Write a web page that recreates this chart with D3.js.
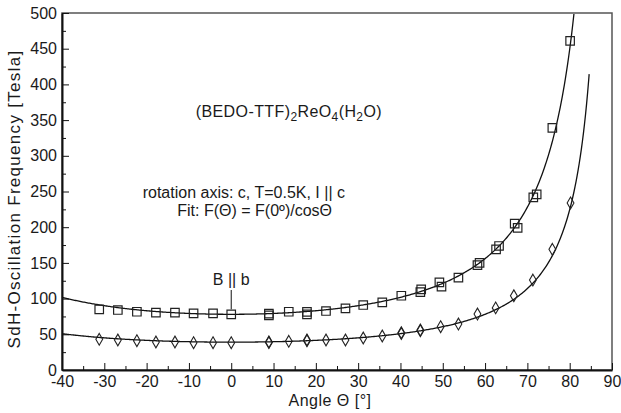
<!DOCTYPE html>
<html lang="en">
<head>
<meta charset="UTF-8">
<title>SdH frequency vs angle</title>
<script src="https://cdn.jsdelivr.net/npm/d3@7"></script>
<style>
    body { margin: 0; background: #fff; }
    svg text { font-family: "Liberation Sans", Arial, sans-serif; fill: #1a1a1a; }
    .axis path, .axis line { stroke: #111; fill: none; }
    .axis text { font-size: 16px; }
</style>
</head>
<body>
<svg width="621" height="413"></svg>
<script>
// squares: upper orbit
var squareAngle = [-31.2, -26.8, -22.3, -17.8, -13.3, -8.9, -4.3, 0, 8.9, 8.9, 13.6, 17.9, 17.9, 22.4,
    27, 31.2, 35.7, 40.2, 44.7, 44.9, 49.2, 49.7, 53.7, 58.2, 58.7, 62.6, 63.3, 67, 67.7, 71.4, 72.2, 75.9, 80.1];
var squareFreq = [85, 84, 81.6, 80.3, 80.3, 79.4, 79.4, 78, 79, 76.5, 81.6, 81.5, 78, 82.6,
    86.3, 91, 94.8, 104, 109, 113, 122.8, 116.7, 129.3, 147, 150, 169, 173.7, 205, 199, 241.8, 246, 339, 461];
// diamonds: lower orbit
var diamondAngle = [-31.2, -26.8, -22.3, -17.8, -13.3, -8.9, -4.3, 0, 8.9, 8.9, 13.6, 17.9, 17.9, 22.4,
    27, 31.2, 35.7, 40.2, 40.2, 44.7, 44.7, 49.5, 53.7, 58.2, 62.5, 66.8, 71.3, 75.9, 80.2];
var diamondFreq = [43, 42, 41, 39.2, 39.2, 38.3, 38.3, 38.3, 39.2, 38.5, 40.2, 42, 41, 42,
    42, 44.8, 47.6, 52.3, 51, 55, 56, 60.7, 64.4, 78.4, 87, 104, 126, 169, 234];
// fit F(0)/cos(theta)
var fitF0 = [78, 39];
var fitEnd = [81.0, 84.6];

var xTicks = [-40, -30, -20, -10, 0, 10, 20, 30, 40, 50, 60, 70, 80, 90];
var xMinor = [-35, -25, -15, -5, 5, 15, 25, 35, 45, 55, 65, 75, 85];
var yTicks = [0, 50, 100, 150, 200, 250, 300, 350, 400, 450, 500];
var yMinor = [25, 75, 125, 175, 225, 275, 325, 375, 425, 475];

var svg = d3.select("svg");
var pLeft = 62, pRight = 612, pTop = 13, pBottom = 370;

var x = d3.scaleLinear().domain([-40, 90]).range([pLeft, pRight]);
var y = d3.scaleLinear().domain([0, 500]).range([pBottom, pTop]);
var fmt = function (d) { return String(d); };

// frame (top/right lighter)
svg.append("rect")
    .attr("x", pLeft).attr("y", pTop)
    .attr("width", pRight - pLeft).attr("height", pBottom - pTop)
    .attr("fill", "none").attr("stroke", "#555").attr("stroke-width", 1.5);

// minor ticks
svg.append("g").attr("class", "axis")
    .attr("transform", "translate(0," + pBottom + ")")
    .call(d3.axisBottom(x).tickValues(xMinor).tickSize(-4).tickFormat(""))
    .select(".domain").remove();
svg.append("g").attr("class", "axis")
    .attr("transform", "translate(" + pLeft + ",0)")
    .call(d3.axisLeft(y).tickValues(yMinor).tickSize(-4).tickFormat(""))
    .select(".domain").remove();

// major axes
var gx = svg.append("g").attr("class", "axis")
    .attr("transform", "translate(0," + pBottom + ")")
    .call(d3.axisBottom(x).tickValues(xTicks).tickFormat(fmt).tickSizeInner(-7).tickSizeOuter(0).tickPadding(6));
var gy = svg.append("g").attr("class", "axis")
    .attr("transform", "translate(" + pLeft + ",0)")
    .call(d3.axisLeft(y).tickValues(yTicks).tickFormat(fmt).tickSizeInner(-7).tickSizeOuter(0).tickPadding(5));
gx.select(".domain").attr("stroke-width", 2);
gy.select(".domain").attr("stroke-width", 2);
gx.selectAll("text").attr("fill", "#1a1a1a");
gy.selectAll("text").attr("fill", "#1a1a1a");

// fit curves
var line = d3.line().x(function (d) { return x(d[0]); }).y(function (d) { return y(d[1]); });
fitF0.forEach(function (f0, i) {
    var pts = [];
    for (var a = -40; a < fitEnd[i]; a += 0.25) pts.push([a, f0 / Math.cos(a * Math.PI / 180)]);
    pts.push([fitEnd[i], f0 / Math.cos(fitEnd[i] * Math.PI / 180)]);
    svg.append("path").datum(pts)
        .attr("d", line)
        .attr("fill", "none").attr("stroke", "#111").attr("stroke-width", 1.3);
});

// markers
var sq = d3.symbol().type(d3.symbolSquare).size(72);
var dm = d3.symbol().type(d3.symbolDiamond).size(40);
svg.selectAll(".sq")
    .data(squareAngle)
    .enter().append("path")
    .attr("d", sq)
    .attr("transform", function (d, i) { return "translate(" + x(d) + "," + y(squareFreq[i]) + ")"; })
    .attr("fill", "none").attr("stroke", "#222").attr("stroke-width", 1.2);
svg.selectAll(".dm")
    .data(diamondAngle)
    .enter().append("path")
    .attr("d", dm)
    .attr("transform", function (d, i) { return "translate(" + x(d) + "," + y(diamondFreq[i]) + ")"; })
    .attr("fill", "none").attr("stroke", "#222").attr("stroke-width", 1.1);

// axis titles
svg.append("text")
    .attr("transform", "translate(20,199) rotate(-90)")
    .attr("text-anchor", "middle")
    .style("font-size", "17px")
    .style("letter-spacing", "1.3px")
    .text("SdH-Oscillation Frequency [Tesla]");
svg.append("text")
    .attr("x", 330).attr("y", 406)
    .attr("text-anchor", "middle")
    .style("font-size", "16px")
    .style("letter-spacing", "0.5px")
    .text("Angle \u0398 [\u00b0]");

// compound name
var comp = svg.append("text")
    .attr("x", 382).attr("y", 117)
    .attr("text-anchor", "end")
    .style("font-size", "16px")
    .style("letter-spacing", "0.4px");
comp.append("tspan").text("(BEDO-TTF)");
comp.append("tspan").attr("dy", 4).style("font-size", "12px").text("2");
comp.append("tspan").attr("dy", -4).text("ReO");
comp.append("tspan").attr("dy", 4).style("font-size", "12px").text("4");
comp.append("tspan").attr("dy", -4).text("(H");
comp.append("tspan").attr("dy", 4).style("font-size", "12px").text("2");
comp.append("tspan").attr("dy", -4).text("O)");

svg.append("text")
    .attr("x", 345).attr("y", 198)
    .attr("text-anchor", "end")
    .style("font-size", "16px")
    .text("rotation axis: c, T=0.5K, I || c");
svg.append("text")
    .attr("x", 332).attr("y", 216)
    .attr("text-anchor", "end")
    .style("font-size", "16px")
    .text("Fit: F(\u0398) = F(0\u00ba)/cos\u0398");

// B || b marker
svg.append("text")
    .attr("x", x(0)).attr("y", 285)
    .attr("text-anchor", "middle")
    .style("font-size", "16px")
    .text("B || b");
svg.append("line")
    .attr("x1", x(0)).attr("x2", x(0))
    .attr("y1", 290).attr("y2", y(78) - 5)
    .attr("stroke", "#111").attr("stroke-width", 1);
</script>
</body>
</html>
